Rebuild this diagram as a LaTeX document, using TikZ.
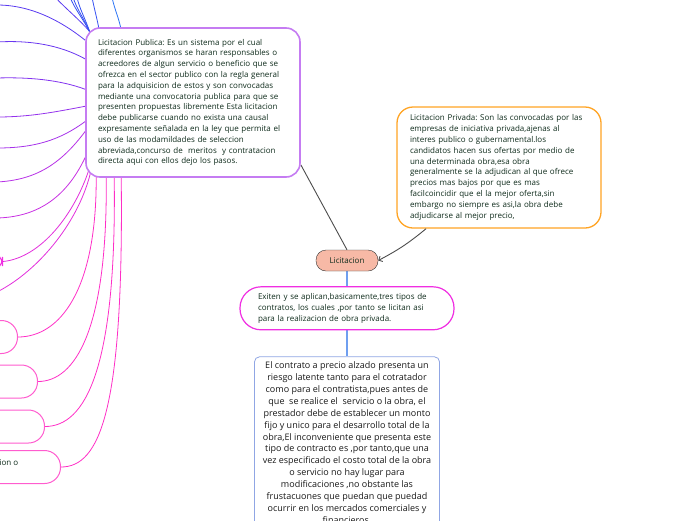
\documentclass[tikz,border=0pt]{standalone}
\usepackage{fontspec}
\setmainfont{Open Sans}
\usepackage{tikz}
\usetikzlibrary{arrows.meta, positioning, calc, backgrounds}
\usepackage{xcolor}
\frenchspacing

\definecolor{inkgreen}{HTML}{0F2C1C}
\definecolor{publicaviolet}{HTML}{C57CF2}
\definecolor{privadaorange}{HTML}{FFA424}
\definecolor{tiposmagenta}{HTML}{F02EE2}
\definecolor{contratoblue}{HTML}{90A6E4}
\definecolor{rootfill}{HTML}{F7B9A6}
\definecolor{leafpink}{HTML}{FF5CCF}
\definecolor{linkblue}{HTML}{3550F2}
\definecolor{linkindigo}{HTML}{5A3AF0}
\definecolor{linkviolet}{HTML}{8232EF}
\definecolor{linkpurple}{HTML}{A632EA}
\definecolor{linkorchid}{HTML}{C830E2}
\definecolor{linkmagenta}{HTML}{E22EDC}
\definecolor{linkpink}{HTML}{FF2EC6}
\definecolor{trunkblue}{HTML}{6F9FF0}

\begin{document}
\begin{tikzpicture}[x=1pt, y=-1pt,
  textbox/.style = {fill=white, text=inkgreen, align=left, font=\fontsize{8}{10.8}\selectfont},
  publicabox/.style = {textbox, draw=publicaviolet, line width=1.6pt, rounded corners=14pt, minimum width=214pt, minimum height=149pt, text width=190pt},
  privadabox/.style = {textbox, draw=privadaorange, line width=1.3pt, rounded corners=16pt, minimum width=204pt, minimum height=121pt, text width=178pt},
  rootbox/.style = {draw=black!80, fill=rootfill, text=inkgreen, rounded corners=10pt, minimum width=62pt, minimum height=21pt, font=\fontsize{8}{9}\selectfont},
  tiposbox/.style = {textbox, draw=tiposmagenta, line width=1.2pt, rounded corners=21pt, minimum width=214pt, minimum height=43pt, text width=178pt},
  contratobox/.style = {draw=contratoblue, line width=0.8pt, rounded corners=5pt, fill=white, text=black!90, align=center, minimum width=185pt, inner ysep=5pt, inner xsep=3pt, font=\fontsize{9}{11.9}\selectfont},
  leafbox/.style = {draw=leafpink, line width=1pt, fill=white, rounded corners=16pt, minimum width=140pt, minimum height=33pt},
  link/.style = {line width=0.8pt},
  arrow/.style = {draw=black!70, line width=0.9pt, -{Straight Barb[length=3pt, width=6pt]}}
]
  \useasboundingbox (0,0) rectangle (696,520);
  \clip (0,0) rectangle (696,520);

  % ======================================================
  % Central topic
  % ======================================================
  \node[rootbox] (licitacion) at (347,260.5) {Licitacion};

  % three kinds of contracts (magenta pill)
  \node[tiposbox, below=15pt of licitacion] (tipos) {
    Exiten y se aplican,basicamente,tres tipos de\\
    contratos, los cuales ,por tanto se licitan asi\\
    para la realizacion de obra privada.
  };

  % lump sum contract (blue box, runs off the page)
  \node[contratobox, below=26pt of tipos, anchor=north] (contrato) {
    El contrato a precio alzado presenta un\\
    riesgo latente tanto para el cotratador\\
    como para el contratista,pues antes de\\
    que\ \ se realice el\ \ servicio o la obra, el\\
    prestador debe de establecer un monto\\
    fijo y unico para el desarrollo total de la\\
    obra,El inconveniente que presenta este\\
    tipo de contracto es ,por tanto,que una\\
    vez especificado el costo total de la obra\\
    o servicio no hay lugar para\\
    modificaciones ,no obstante las\\
    frustacuones que puedan que puedad\\
    ocurrir en los mercados comerciales y\\
    financieros.
  };

  % ======================================================
  % Public and private tenders
  % ======================================================
  \node[publicabox] (publica) at (193,102.5) {
    Licitacion Publica: Es un sistema por el cual\\
    diferentes organismos se haran responsables o\\
    acreedores de algun servicio o beneficio que se\\
    ofrezca en el sector publico con la regla general\\
    para la adquisicion de estos y son convocadas\\
    mediante una convocatoria publica para que se\\
    presenten propuestas libremente Esta licitacion\\
    debe publicarse cuando no exista una causal\\
    expresamente señalada en la ley que permita el\\
    uso de las modamildades de seleccion\\
    abreviada,concurso de\ \ meritos\ \ y contratacion\\
    directa aqui con ellos dejo los pasos.
  };

  \node[privadabox] (privada) at (499,167.5) {
    Licitacion Privada: Son las convocadas por las\\
    empresas de iniciativa privada,ajenas al\\
    interes publico o gubernamental.los\\
    candidatos hacen sus ofertas por medio de\\
    una determinada obra,esa obra\\
    generalmente se la adjudican al que ofrece\\
    precios mas bajos por que es mas\\
    facilcoincidir que el la mejor oferta,sin\\
    embargo no siempre es asi,la obra debe\\
    adjudicarse al mejor precio,
  };

  % ======================================================
  % Sub topics cut by the left edge
  % ======================================================
  \node[leafbox, draw=tiposmagenta, minimum height=23pt, anchor=east] (leafA) at (3,261.5) {};
  \node[leafbox, anchor=east] (leafB) at (18,337) {};
  \node[leafbox, anchor=east] (leafC) at (38,381.5) {};
  \node[leafbox, anchor=east] (leafD) at (45,426.5) {};
  \node[leafbox, anchor=east] (leafE) at (61,467) {};
  \node[text=inkgreen, font=\fontsize{8}{9}\selectfont, anchor=base east, inner sep=0pt] (leafEtext) at (18.5,465) {ion o};

  % free ends of the links that leave the page
  \coordinate (outT1) at (55,-3);
  \coordinate (outT2) at (70,-3);
  \coordinate (outT3) at (73,-3);
  \coordinate (outT4) at (77,-3);
  \coordinate (outT5) at (92,-3);
  \coordinate (outT6) at (112,-3);
  \coordinate (outL1) at (-3,5);
  \coordinate (outL2) at (-3,42);
  \coordinate (outL3) at (-3,78);
  \coordinate (outL4) at (-3,117);
  \coordinate (outL5) at (-3,148);
  \coordinate (outL6) at (-3,182);
  \coordinate (outL7) at (-3,218);
  \coordinate (outL8) at (-3,292);

  \begin{scope}[on background layer]
    % links to the top
    \draw[link, linkindigo] ($(publica.north west)+(6,6)$) .. controls (80,20) and (65,8) .. (outT1);
    \draw[link, linkblue] ($(publica.north west)+(5,6)$) .. controls (84,20) and (74,8) .. (outT2);
    \draw[link, linkblue] ($(publica.north west)+(5,6)$) .. controls (85,20) and (76,8) .. (outT3);
    \draw[link, linkblue] ($(publica.north west)+(5,6)$) .. controls (86,20) and (79,8) .. (outT4);
    \draw[link, linkblue] ($(publica.north west)+(14,3)$) .. controls (97,18) and (94,8) .. (outT5);
    \draw[link, linkblue!80!cyan] ($(publica.north west)+(36,3)$) .. controls (119,18) and (114,8) .. (outT6);

    % links to the left
    \draw[link, linkindigo] (publica.150.5) .. controls (60,20) and (30,5) .. (outL1);
    \draw[link, linkindigo!60!linkviolet] (publica.158.3) .. controls (60,45) and (30,40) .. (outL2);
    \draw[link, linkviolet] (publica.173.3) .. controls (60,80) and (30,77) .. (outL3);
    \draw[link, linkviolet!50!linkpurple] (publica.182.4) .. controls (55,112) and (30,117) .. (outL4);
    \draw[link, linkpurple] (publica.190.3) .. controls (60,140) and (35,148) .. (outL5);
    \draw[link, linkpurple!50!linkorchid] (publica.195.9) .. controls (60,165) and (35,180) .. (outL6);
    \draw[link, linkorchid] (publica.207.4) .. controls (65,200) and (35,217) .. (outL7);
    \draw[link, linkmagenta] ($(publica.south west)+(5,-12)$) .. controls (75,215) and (40,258) .. (leafA.east);
    \draw[link, linkmagenta] ($(publica.south west)+(6,-8)$) .. controls (80,220) and (40,270) .. (outL8);

    % links down to the left topics
    \draw[link, linkpink] ($(publica.south west)+(11,-2)$) .. controls (97,290) and (60,337) .. (leafB.east);
    \draw[link, linkpink] ($(publica.south west)+(21,-2)$) .. controls (108,330) and (75,381.5) .. (leafC.east);
    \draw[link, linkpink] ($(publica.south west)+(29,-2)$) .. controls (117,370) and (85,426.5) .. (leafD.east);
    \draw[link, linkpink] ($(publica.south west)+(36,-2)$) .. controls (124,410) and (100,467) .. (leafE.east);

    % ======================================================
    % links of the central topic
    % ======================================================
    \draw[line width=0.9pt, black!70] (licitacion.north) -- (publica.-30);
    \draw[line width=1.2pt, trunkblue] (licitacion.south) -- (tipos.north);
    \draw[line width=1.2pt, trunkblue] (tipos.south) -- (contrato.north);
  \end{scope}

  % private tender -> central topic
  \draw[arrow] (privada.220) to[bend left=6] (licitacion.east);

\end{tikzpicture}
\end{document}
